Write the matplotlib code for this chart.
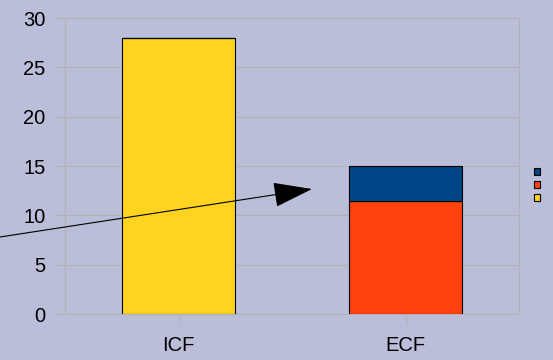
import matplotlib
matplotlib.use("Agg")
import matplotlib.pyplot as plt
from matplotlib.patches import Patch, FancyArrowPatch
import numpy as np

plt.rcParams['font.family'] = ['Liberation Sans', 'DejaVu Sans']

categories = ['ICF', 'ECF']
base_values = [28, 0]       # yellow
middle_values = [0, 11.5]   # orange
top_values = [0, 3.5]       # blue
y_ticks = [0, 5, 10, 15, 20, 25, 30]

bg = '#babed9'
grid_gray = '#b2b2b4'
yellow = '#ffd320'
orange = '#ff420e'
blue = '#004586'

fig = plt.figure(figsize=(5.53, 3.60), dpi=100, facecolor=bg)
ax = fig.add_axes([65 / 553, 46 / 360, 454 / 553, 296 / 360])
ax.set_facecolor(bg)

x = np.arange(len(categories))
w = 0.5
ax.bar(x, base_values, w, color=yellow, edgecolor='black', linewidth=0.8, zorder=3)
ax.bar(x, middle_values, w, bottom=base_values, color=orange, edgecolor='black',
       linewidth=0.8, zorder=3)
bottom2 = np.add(base_values, middle_values)
ax.bar(x, top_values, w, bottom=bottom2, color=blue, edgecolor='black',
       linewidth=0.8, zorder=3)

ax.set_xlim(-0.5, len(categories) - 0.5)
ax.set_ylim(0, 30)
ax.set_yticks(y_ticks)
ax.set_xticks(x)
ax.set_xticklabels(categories)
ax.yaxis.grid(True, color=grid_gray, linewidth=0.8, zorder=0)
ax.set_axisbelow(True)
for s in ax.spines.values():
    s.set_color(grid_gray)
    s.set_linewidth(0.8)
ax.tick_params(axis='both', colors=grid_gray, labelcolor='black', labelsize=14.5,
               length=8, width=0.8)
ax.tick_params(axis='y', pad=6)
ax.tick_params(axis='x', pad=8)

handles = [Patch(facecolor=c, edgecolor='black', linewidth=0.8) for c in (blue, orange, yellow)]
fig.legend(handles, ['', '', ''], loc='center', bbox_to_anchor=(537 / 553, 1 - 185 / 360),
           frameon=False, fontsize=7, handlelength=0.7, handleheight=0.7,
           handletextpad=0, labelspacing=0.28, borderpad=0)

arrow = FancyArrowPatch((0, 1 - 237 / 360), (312 / 553, 1 - 189 / 360),
                        transform=fig.transFigure, arrowstyle='-|>,head_length=2.5,head_width=0.8',
                        mutation_scale=10, color='black', linewidth=0.8,
                        shrinkA=0, shrinkB=0, zorder=10)
fig.patches.append(arrow)

fig.savefig('out.png', dpi=100, facecolor=bg)
